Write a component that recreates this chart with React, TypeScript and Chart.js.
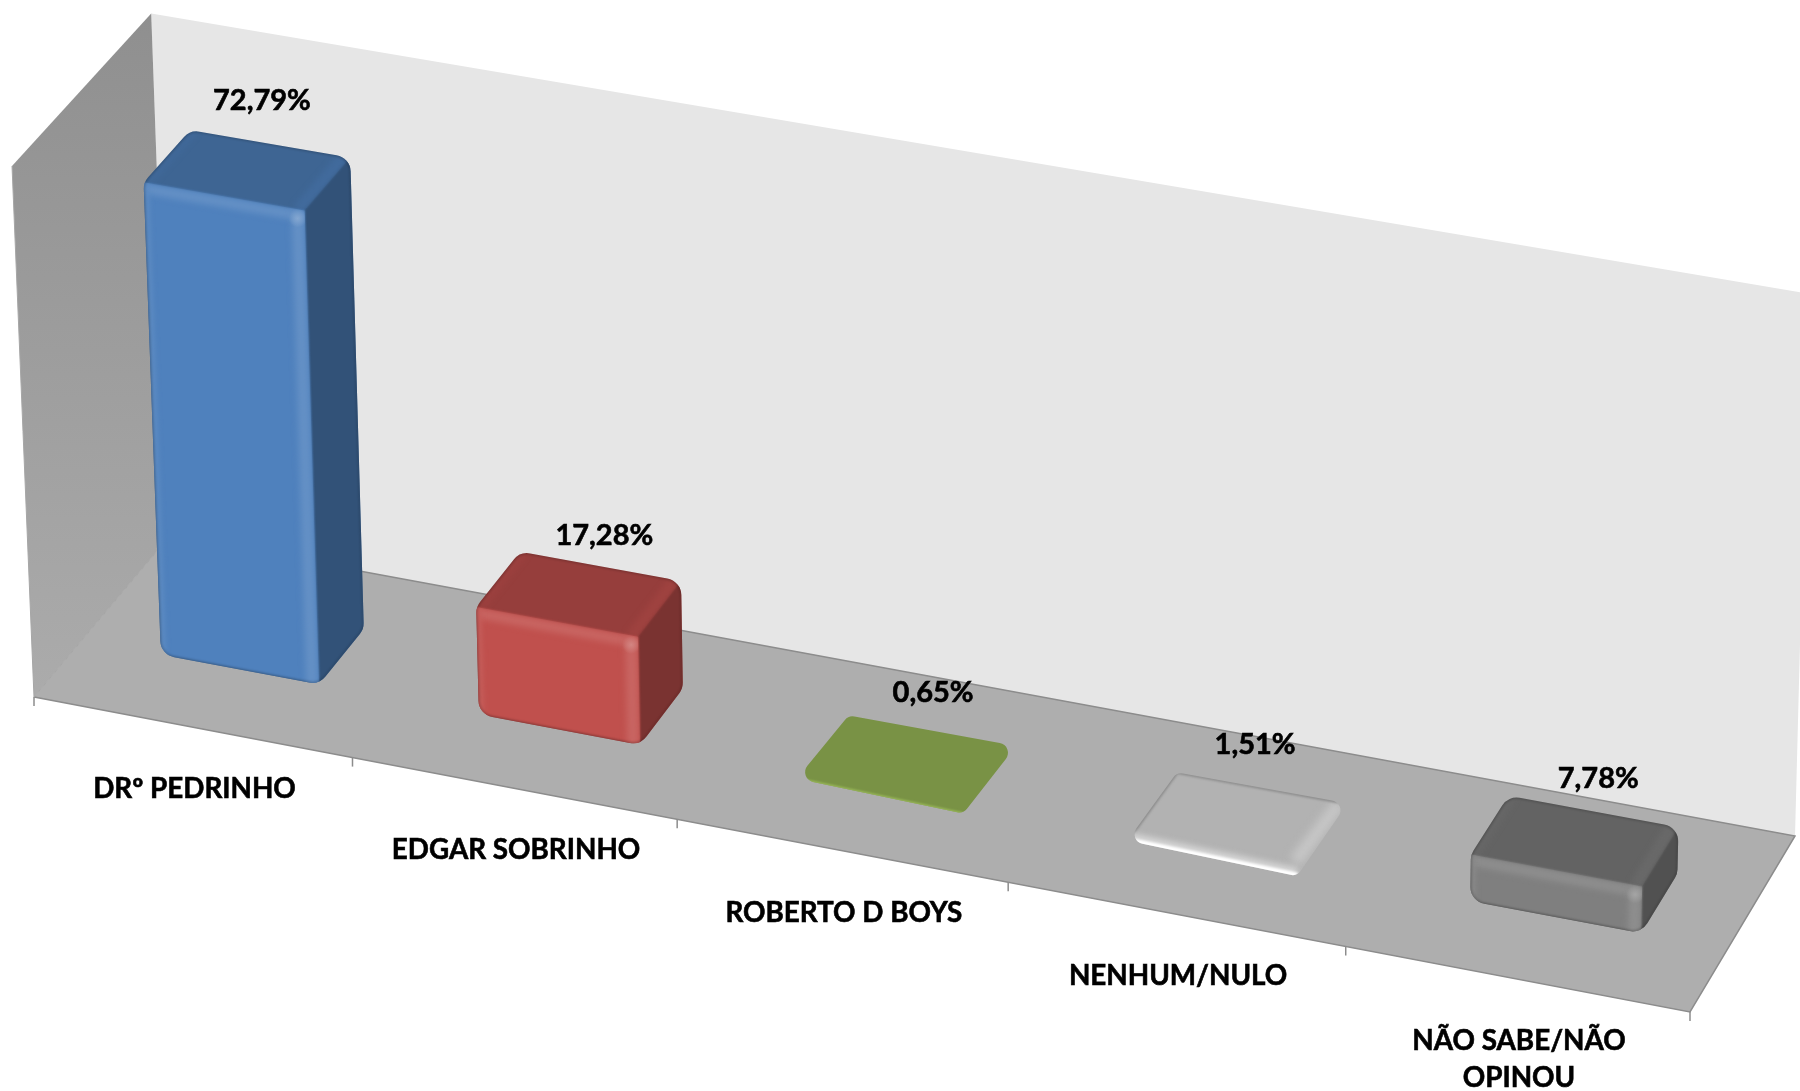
import React, { useEffect, useRef } from "react";
import { Chart, registerables } from "chart.js";

Chart.register(...registerables);

// ---- data ----
const categories: (string | string[])[] = [
  "DRº PEDRINHO",
  "EDGAR SOBRINHO",
  "ROBERTO D BOYS",
  "NENHUM/NULO",
  ["NÃO SABE/NÃO", "OPINOU"],
];
const values = [72.79, 17.28, 0.65, 1.51, 7.78];
const valueTexts = ["72,79%", "17,28%", "0,65%", "1,51%", "7,78%"];
const barColors = ["#4F81BD", "#C0504D", "#9BBB59", "#FFFFFF", "#7F7F7F"];
const axisMax = 80.5;

// ---- layout of the 3D view ----
type P = { x: number; y: number };
const FLOOR_FRONT_LEFT: P = { x: 34, y: 697 };
const FLOOR_FRONT_RIGHT: P = { x: 1690, y: 1012 };
const FLOOR_BACK_RIGHT: P = { x: 1795, y: 836 };
const FLOOR_BACK_LEFT: P = { x: 170, y: 536 };
const VANISH: P = { x: 1118, y: 26880 };
const WALL_TOP_FRONT_LEFT_Y = 166;
const DEPTH_FRONT = 0.35;
const DEPTH_BACK = 0.69;
const BEVEL_INSET = 0.0095;
const valueLabelNudge: P[] = [
  { x: -8, y: -38 },
  { x: 4, y: -26 },
  { x: 7, y: -37 },
  { x: -1, y: -41 },
  { x: 5, y: -28 },
];
const FONT = 'Lato, "Open Sans", sans-serif';

function makeProjector() {
  const [p0, p1, p2, p3] = [FLOOR_FRONT_LEFT, FLOOR_FRONT_RIGHT, FLOOR_BACK_RIGHT, FLOOR_BACK_LEFT];
  const dx1 = p1.x - p2.x, dx2 = p3.x - p2.x, sx = p0.x - p1.x + p2.x - p3.x;
  const dy1 = p1.y - p2.y, dy2 = p3.y - p2.y, sy = p0.y - p1.y + p2.y - p3.y;
  const den = dx1 * dy2 - dx2 * dy1;
  const g = (sx * dy2 - dx2 * sy) / den;
  const h = (dx1 * sy - sx * dy1) / den;
  const a = p1.x - p0.x + g * p1.x, b = p3.x - p0.x + h * p3.x, c = p0.x;
  const d = p1.y - p0.y + g * p1.y, e = p3.y - p0.y + h * p3.y, f = p0.y;
  const k = (WALL_TOP_FRONT_LEFT_Y - p0.y) / (VANISH.y - WALL_TOP_FRONT_LEFT_Y);
  return (u: number, v: number, w: number): P => {
    const W = g * u + h * v + 1 + k * w;
    return {
      x: (a * u + b * v + c + k * w * VANISH.x) / W,
      y: (d * u + e * v + f + k * w * VANISH.y) / W,
    };
  };
}
const project = makeProjector();

function hexToRgb(hex: string) {
  const n = parseInt(hex.slice(1), 16);
  return [(n >> 16) & 255, (n >> 8) & 255, n & 255];
}
function shade(hex: string, m: number) {
  const [r, g, b] = hexToRgb(hex);
  return `rgb(${Math.round(r * m)},${Math.round(g * m)},${Math.round(b * m)})`;
}
function tint(hex: string, t: number, alpha = 1) {
  const [r, g, b] = hexToRgb(hex);
  const l = (c: number) => Math.round(c + (255 - c) * t);
  return `rgba(${l(r)},${l(g)},${l(b)},${alpha})`;
}

function poly(ctx: CanvasRenderingContext2D, pts: P[]) {
  ctx.beginPath();
  pts.forEach((p, i) => (i ? ctx.lineTo(p.x, p.y) : ctx.moveTo(p.x, p.y)));
  ctx.closePath();
}
function roundedPoly(ctx: CanvasRenderingContext2D, pts: P[], r: number) {
  const n = pts.length;
  const s = { x: (pts[n - 1].x + pts[0].x) / 2, y: (pts[n - 1].y + pts[0].y) / 2 };
  ctx.beginPath();
  ctx.moveTo(s.x, s.y);
  for (let i = 0; i < n; i++) {
    const p = pts[i], q = pts[(i + 1) % n], o = pts[(i + n - 1) % n];
    const rr = Math.min(r, Math.hypot(p.x - q.x, p.y - q.y) / 2.2, Math.hypot(p.x - o.x, p.y - o.y) / 2.2);
    ctx.arcTo(p.x, p.y, q.x, q.y, rr);
  }
  ctx.closePath();
}
function softLine(ctx: CanvasRenderingContext2D, a: P, b: P, color: string, width: number, blur: number) {
  ctx.save();
  ctx.filter = `blur(${blur}px)`;
  ctx.strokeStyle = color;
  ctx.lineWidth = width;
  ctx.beginPath();
  ctx.moveTo(a.x, a.y);
  ctx.lineTo(b.x, b.y);
  ctx.stroke();
  ctx.restore();
}
function softFill(ctx: CanvasRenderingContext2D, pts: P[], color: string | CanvasGradient, blur: number) {
  ctx.save();
  ctx.filter = `blur(${blur}px)`;
  poly(ctx, pts);
  ctx.fillStyle = color;
  ctx.fill();
  ctx.restore();
}
const shift = (p: P, dx: number, dy: number): P => ({ x: p.x + dx, y: p.y + dy });

function drawBar(ctx: CanvasRenderingContext2D, color: string, u0: number, u1: number, rawW: number) {
  const w = rawW - Math.min(BEVEL_INSET, rawW * 0.25);
  const v0 = DEPTH_FRONT, v1 = DEPTH_BACK;
  const flb = project(u0, v0, 0), frb = project(u1, v0, 0), brb = project(u1, v1, 0);
  const flt = project(u0, v0, w), frt = project(u1, v0, w), brt = project(u1, v1, w), blt = project(u0, v1, w);
  const frontH = flb.y - flt.y;
  const flat = frontH < 22;
  const outline = flat
    ? [shift(flb, -6, 3), shift(frb, -4, 7), shift(brt, 8, 0), shift(blt, 4, 0)]
    : [flb, frb, brb, brt, blt, flt];
  const radius = flat ? 10 : 17;
  const isWhite = color === "#FFFFFF";
  const topC = isWhite ? "#B2B2B2" : shade(color, 0.78);
  const sideC = isWhite ? "#B6B6B6" : shade(color, 0.635);
  ctx.save();
  roundedPoly(ctx, outline, radius);
  ctx.clip();
  ctx.fillStyle = topC;
  ctx.fillRect(0, 0, 1800, 1091);
  if (!flat) softFill(ctx, [frb, brb, brt, frt], sideC, 1);
  // top-face bevels
  if (isWhite) {
    softLine(ctx, shift(frt, -6, 0), shift(brt, 0, 0), "#C6C6C6", 13, 4);
    softLine(ctx, outline[3], outline[2], "#8A8A8A", 3, 1);
    softLine(ctx, outline[0], outline[3], "#8A8A8A", 3, 1);
  } else if (!flat) {
    ctx.save();
    poly(ctx, [flt, frt, brt, blt]);
    ctx.clip();
    softLine(ctx, shift(frt, -7, 0), shift(brt, -7, 0), tint(color, 0, 0.22), 12, 3);
    softLine(ctx, shift(flt, 5, 0), shift(blt, 5, 0), tint(color, 0, 0.14), 8, 3);
    ctx.restore();
  }
  // front face
  if (flat) {
    if (isWhite) {
      softLine(ctx, shift(outline[0], 0, -2), shift(outline[1], 0, -2), "#D8D8D8", 12, 3);
      softLine(ctx, shift(outline[0], 0, 1), shift(outline[1], 0, 1), "#FFFFFF", 9, 1.2);
    } else {
      softLine(ctx, shift(outline[0], 0, 1), shift(outline[1], 0, 1), color, 4, 1.2);
    }
  } else {
    softFill(ctx, [flb, frb, frt, flt], color, 1);
    ctx.save();
    poly(ctx, [flb, frb, frt, flt]);
    ctx.clip();
    const hi = tint(color, 0.12);
    softLine(ctx, shift(flt, 0, 6), shift(frt, 0, 6), hi, 10, 3);
    softLine(ctx, shift(frt, -7, 0), shift(frb, -7, 0), hi, 12, 3);
    softLine(ctx, shift(flt, 2, 0), shift(flb, 2, 0), tint(color, 0.08), 6, 2.5);
    const spot = shift(frt, -7, 8);
    const rg = ctx.createRadialGradient(spot.x, spot.y, 0, spot.x, spot.y, 9);
    rg.addColorStop(0, tint(color, 0.3));
    rg.addColorStop(1, tint(color, 0.3, 0));
    ctx.fillStyle = rg;
    ctx.fillRect(spot.x - 10, spot.y - 10, 20, 20);
    ctx.restore();
    roundedPoly(ctx, outline, radius);
    ctx.save();
    ctx.filter = "blur(1px)";
    ctx.strokeStyle = "rgba(0,0,0,0.2)";
    ctx.lineWidth = 2.5;
    ctx.stroke();
    ctx.restore();
  }
  ctx.restore();
}

const view3d = {
  id: "view3d",
  beforeDatasetsDraw(chart: any) {
    const { ctx } = chart;
    const fl = project(0, 0, 0), bl = project(0, 1, 0), br = project(1, 1, 0), fr = project(1, 0, 0);
    const flT = project(0, 0, 1), blT = project(0, 1, 1), brT = project(1, 1, 1);
    ctx.save();
    poly(ctx, [bl, br, brT, blT]);
    ctx.fillStyle = "#E6E6E6";
    ctx.fill();
    poly(ctx, [fl, bl, blT, flT]);
    const gr = ctx.createLinearGradient(0, 10, 0, 690);
    gr.addColorStop(0, "#8F8F8F");
    gr.addColorStop(1, "#ABABAB");
    ctx.fillStyle = gr;
    ctx.fill();
    poly(ctx, [fl, fr, br, bl]);
    ctx.fillStyle = "#AEAEAE";
    ctx.fill();
    ctx.lineWidth = 1.5;
    ctx.strokeStyle = "#8C8C8C";
    ctx.beginPath();
    ctx.moveTo(bl.x, bl.y);
    ctx.lineTo(br.x, br.y);
    ctx.lineTo(fr.x, fr.y);
    ctx.lineTo(fl.x, fl.y);
    ctx.stroke();
    ctx.lineWidth = 1;
    ctx.strokeStyle = "#A6A6A6";
    ctx.beginPath();
    ctx.moveTo(fl.x, fl.y);
    ctx.lineTo(flT.x, flT.y);
    ctx.moveTo(fl.x, fl.y);
    ctx.lineTo(bl.x, bl.y);
    ctx.stroke();
    ctx.lineWidth = 1.5;
    ctx.strokeStyle = "#8C8C8C";
    for (let i = 0; i <= categories.length; i++) {
      const p = project(i / categories.length, 0, 0);
      ctx.beginPath();
      ctx.moveTo(p.x, p.y);
      ctx.lineTo(p.x, p.y + 9);
      ctx.stroke();
    }
    ctx.restore();
  },
  beforeDatasetDraw(chart: any, args: any) {
    const { ctx, chartArea } = chart;
    const meta = chart.getDatasetMeta(args.index);
    const ys = chart.scales.y;
    const norm = (x: number) => (x - chartArea.left) / chartArea.width;
    meta.data.forEach((bar: any, i: number) => {
      const p = bar.getProps(["x", "y", "base", "width"], true);
      const w = (ys.getPixelForValue(0) - p.y) / (ys.getPixelForValue(0) - ys.getPixelForValue(axisMax));
      drawBar(ctx, barColors[i], norm(p.x - p.width / 2), norm(p.x + p.width / 2), w);
    });
    return false;
  },
  afterDatasetsDraw(chart: any) {
    const { ctx, chartArea } = chart;
    const xs = chart.scales.x, ys = chart.scales.y;
    const norm = (x: number) => (x - chartArea.left) / chartArea.width;
    const meta = chart.getDatasetMeta(0);
    const put = (t: string, x: number, y: number) => {
      ctx.strokeText(t, x, y);
      ctx.fillText(t, x, y);
    };
    ctx.save();
    ctx.fillStyle = "#000";
    ctx.strokeStyle = "#000";
    ctx.lineWidth = 0.6;
    ctx.textAlign = "center";
    ctx.textBaseline = "middle";
    categories.forEach((_, i) => {
      const cx = xs.getPixelForValue(i);
      const base = project(norm(cx), 0, 0);
      const raw = categories[i];
      const lines = Array.isArray(raw) ? raw : [raw];
      ctx.font = `bold 27.8px ${FONT}`;
      lines.forEach((t, j) => put(t, base.x + 2, base.y + 62 + j * 37));
      const bar = meta.data[i].getProps(["x", "y", "width"], true);
      const w = (ys.getPixelForValue(0) - bar.y) / (ys.getPixelForValue(0) - ys.getPixelForValue(axisMax));
      const back = project(norm(bar.x), DEPTH_BACK, w);
      ctx.font = `bold 29px ${FONT}`;
      put(valueTexts[i], back.x + valueLabelNudge[i].x, back.y + valueLabelNudge[i].y);
    });
    ctx.restore();
  },
};

export default function App() {
  const ref = useRef<HTMLCanvasElement>(null);
  useEffect(() => {
    document.body.style.background = "#fff";
    const chart = new Chart(ref.current as HTMLCanvasElement, {
      type: "bar",
      data: {
        labels: categories as any,
        datasets: [{ data: values, backgroundColor: barColors, categoryPercentage: 0.5, barPercentage: 1 }],
      },
      options: {
        animation: false,
        responsive: false,
        devicePixelRatio: 1,
        layout: { padding: 0 },
        plugins: { legend: { display: false }, tooltip: { enabled: false }, title: { display: false } },
        scales: {
          x: { display: false },
          y: { display: false, min: 0, max: axisMax },
        },
      },
      plugins: [view3d as any],
    });
    return () => chart.destroy();
  }, []);
  return (
    <canvas
      ref={ref}
      width={1800}
      height={1091}
      style={{ position: "absolute", left: 0, top: 0, width: 1800, height: 1091, display: "block" }}
    />
  );
}
